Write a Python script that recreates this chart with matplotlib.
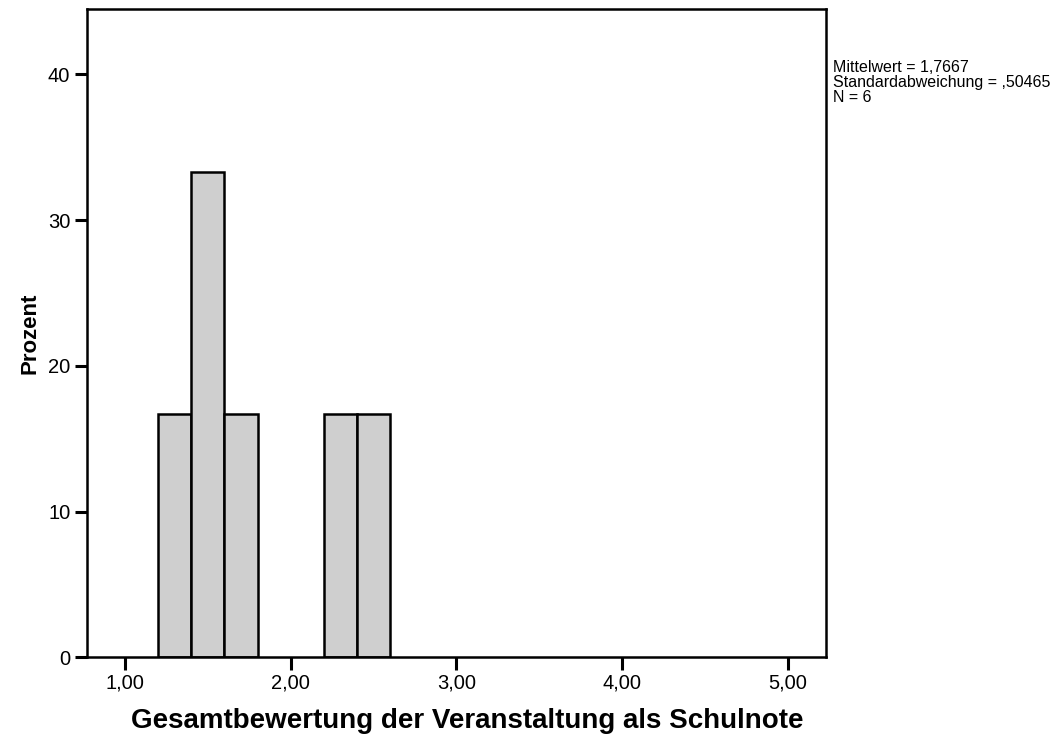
import matplotlib
matplotlib.use('Agg')
import matplotlib.pyplot as plt

plt.rcParams['font.family'] = ['Liberation Sans', 'DejaVu Sans']

# histogram bins (left edge) and percent per bin
bin_left = [1.2, 1.4, 1.6, 2.2, 2.4]
bin_width = 0.2
percent = [16.67, 33.33, 16.67, 16.67, 16.67]

x_ticks = [1, 2, 3, 4, 5]
x_labels = ['1,00', '2,00', '3,00', '4,00', '5,00']
y_ticks = [0, 10, 20, 30, 40]

stats_text = 'Mittelwert = 1,7667\nStandardabweichung = ,50465\nN = 6'

fig = plt.figure(figsize=(10.64, 7.36), dpi=100)
ax = fig.add_axes([0.0817, 0.107, 0.6946, 0.881])

ax.bar(bin_left, percent, width=bin_width, align='edge',
       color='#cfcfcf', edgecolor='black', linewidth=1.8)

ax.set_xlim(0.77, 5.23)
ax.set_ylim(0, 44.5)
ax.set_xticks(x_ticks)
ax.set_xticklabels(x_labels)
ax.set_yticks(y_ticks)

for side in ['left', 'bottom', 'top', 'right']:
    ax.spines[side].set_linewidth(1.8)

ax.tick_params(axis='both', direction='out', length=9, width=2.2,
               labelsize=14.5, pad=3)

ax.set_xlabel('Gesamtbewertung der Veranstaltung als Schulnote',
              fontsize=20, fontweight='bold')
ax.xaxis.set_label_coords(0.515, -0.078)
ax.set_ylabel('Prozent', fontsize=16, fontweight='bold', labelpad=5)

fig.text(833 / 1064, 1 - 60 / 736, stats_text, fontsize=11.5,
         va='top', ha='left', linespacing=1.0)

fig.savefig('out.png', dpi=100)
